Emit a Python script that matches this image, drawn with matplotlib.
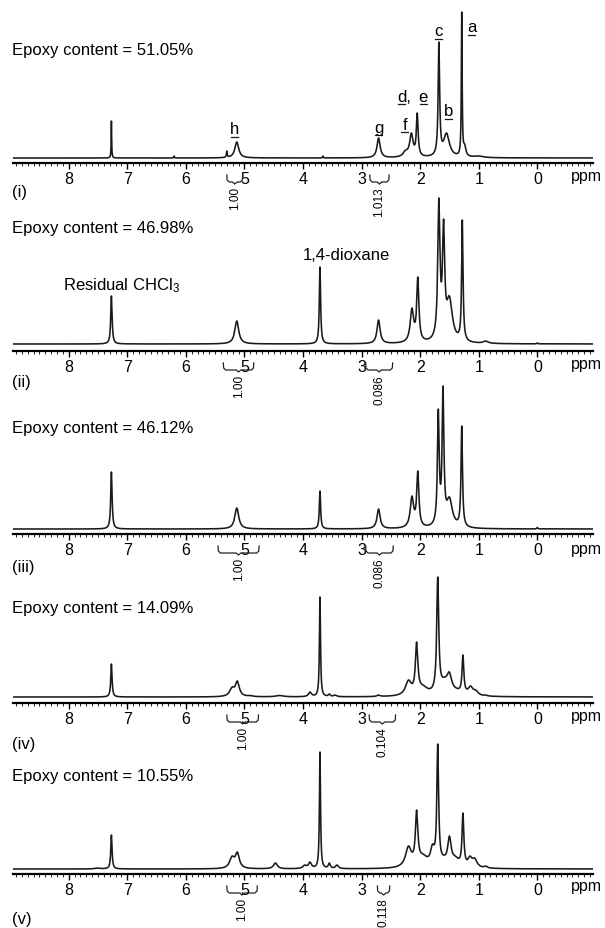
import numpy as np
import matplotlib.pyplot as plt
from matplotlib.ticker import MultipleLocator

plt.rcParams['font.family'] = 'Liberation Sans'
plt.rcParams['mathtext.fontset'] = 'custom'
plt.rcParams['mathtext.rm'] = 'Liberation Sans'
plt.rcParams['mathtext.it'] = 'Liberation Sans:italic'
plt.rcParams['mathtext.bf'] = 'Liberation Sans:bold'

# ---- data (ppm, peak height in px above baseline, half width) ----
panel_names = ['(i)', '(ii)', '(iii)', '(iv)', '(v)']
epoxy_content = [51.05, 46.98, 46.12, 14.09, 10.55]

pos_i = [7.27, 6.20, 5.30, 5.13, 3.66, 2.71, 2.25, 2.15, 2.05, 1.68, 1.55, 1.29, 1.24, 1.00]
hgt_i = [37, 2, 7, 16, 2, 20, 8, 25, 45, 116, 25, 146, 14, 2]
wid_i = [0.005, 0.006, 0.008, 0.04, 0.006, 0.032, 0.05, 0.035, 0.018, 0.015, 0.06, 0.008, 0.025, 0.1]

pos_ii = [7.27, 5.13, 3.71, 2.71, 2.14, 2.04, 1.68, 1.60, 1.50, 1.28, 0.88, 0.00]
hgt_ii = [48, 23, 77, 24, 36, 67, 146, 125, 48, 124, 3, 1]
wid_ii = [0.014, 0.04, 0.013, 0.032, 0.035, 0.022, 0.022, 0.022, 0.06, 0.014, 0.05, 0.01]

pos_iii = [7.27, 5.13, 3.71, 2.71, 2.14, 2.04, 1.69, 1.61, 1.50, 1.29, 0.00]
hgt_iii = [57, 21, 38, 20, 33, 58, 120, 143, 32, 103, 1.5]
wid_iii = [0.014, 0.04, 0.013, 0.032, 0.035, 0.022, 0.018, 0.018, 0.06, 0.015, 0.01]

pos_iv = [7.27, 5.21, 5.12, 4.90, 4.40, 3.88, 3.71, 3.55, 3.45, 2.71, 2.20, 2.06, 1.95,
          1.70, 1.58, 1.50, 1.38, 1.27, 1.14, 1.05, 0.88]
hgt_iv = [33, 10, 16, 1.5, 1.5, 5, 100, 3, 2, 2, 17, 55, 12, 120, 20, 25, 9, 42, 11, 7, 2]
wid_iv = [0.013, 0.05, 0.04, 0.05, 0.08, 0.03, 0.011, 0.02, 0.03, 0.03, 0.06, 0.025, 0.1,
          0.02, 0.1, 0.045, 0.1, 0.018, 0.05, 0.05, 0.03]

pos_v = [7.50, 7.27, 5.21, 5.12, 4.47, 3.97, 3.88, 3.71, 3.55, 3.42, 2.20, 2.06, 1.95,
         1.79, 1.70, 1.60, 1.50, 1.40, 1.27, 1.15, 1.07, 0.88]
hgt_v = [1, 34, 13, 17, 6, 4, 7, 117, 6, 4, 23, 59, 15, 25, 125, 14, 33, 13, 56, 13, 11, 3]
wid_v = [0.05, 0.013, 0.05, 0.04, 0.04, 0.04, 0.03, 0.011, 0.02, 0.03, 0.06, 0.025, 0.1,
         0.04, 0.018, 0.08, 0.035, 0.08, 0.018, 0.04, 0.05, 0.03]

# integration regions under the axis (ppm) and their values
int1_lo = [5.30, 5.36, 5.45, 5.30, 5.30]
int1_hi = [5.03, 4.84, 4.75, 4.76, 4.78]
int1_val = ['1.00', '1.00', '1.00', '1.00', '1.00']
int2_lo = [2.86, 2.93, 2.93, 2.87, 2.73]
int2_hi = [2.53, 2.47, 2.46, 2.42, 2.52]
int2_val = ['1.013', '0.086', '0.086', '0.104', '0.118']

# peak assignments in spectrum (i)
lab_i_text = ['a', 'b', 'c', 'd', 'e', 'f', 'g', 'h']
lab_i_ppm = [1.12, 1.52, 1.69, 2.28, 1.95, 2.26, 2.71, 5.17]
lab_i_y = [131, 47, 127, 62, 62, 34, 31, 29]

peaks = [(pos_i, hgt_i, wid_i), (pos_ii, hgt_ii, wid_ii), (pos_iii, hgt_iii, wid_iii),
         (pos_iv, hgt_iv, wid_iv), (pos_v, hgt_v, wid_v)]

# layout in figure pixels (from top)
W, H = 605, 929
base_y = [159, 345, 530, 698, 870]
axis_y = [164, 352, 535, 704, 875]
epoxy_y = [50, 229, 429, 609, 777]
name_y = [193, 382, 568, 745, 920]
ticklab_y = [176, 365, 550, 717, 887]


def lor(x, x0, w):
    return w ** 2 / ((x - x0) ** 2 + w ** 2)


def spectrum(ppm, pos, hgt, wid):
    pos = np.array(pos, float)
    hgt = np.array(hgt, float)
    wid = np.array(wid, float)
    m = lor(pos[:, None], pos[None, :], wid[None, :])
    amp = hgt.copy()
    # non-negative fit so that the curve passes through the read peak heights
    for _ in range(800):
        amp = amp * hgt / (m @ amp)
    return (amp[None, :] * lor(ppm[:, None], pos[None, :], wid[None, :])).sum(axis=1)


def integral(ax, lo, hi, val, gap):
    yt = -(gap + 12)
    yl = -(gap + 19)
    c = (lo + hi) / 2
    d = 0.04
    ax.plot([lo, lo - 0.005, lo - d, c + d, c, c - d, hi + d, hi + 0.005, hi],
            [yt, yl + 2, yl, yl, yl - 2, yl, yl, yl + 2, yt],
            color='#222222', lw=0.9, clip_on=False)
    ax.text(c, yl - 4, val, rotation=90, ha='center', va='top', fontsize=8.5)


ppm = np.linspace(-0.95, 8.95, 9000)
fig = plt.figure(figsize=(W / 100, H / 100), dpi=100)

for k in range(5):
    base, axy = base_y[k], axis_y[k]
    top = base - 152
    gap = axy - base
    ax = fig.add_axes([13 / W, 1 - axy / H, 580 / W, (axy - top) / H])
    ax.patch.set_visible(False)
    ax.set_xlim(8.95, -0.95)
    ax.set_ylim(-gap, base - top)

    pos, hgt, wid = peaks[k]
    ax.plot(ppm, spectrum(ppm, pos, hgt, wid), color='#1a1a1a', lw=1.15)

    for s in ['top', 'left', 'right']:
        ax.spines[s].set_visible(False)
    ax.spines['bottom'].set_linewidth(1.6)
    ax.set_yticks([])
    ax.set_xticks(range(0, 9))
    ax.xaxis.set_minor_locator(MultipleLocator(0.1))
    ax.tick_params(axis='x', which='major', length=4.5, width=1.0, pad=1.5, labelsize=11.5)
    ax.tick_params(axis='x', which='minor', length=2.2, width=0.6)

    ax.text(-0.83, base - ticklab_y[k], 'ppm', ha='center', va='center', fontsize=11.5)
    tr = ax.get_yaxis_transform()
    ax.text(-0.002, base - epoxy_y[k], 'Epoxy content = %.2f%%' % epoxy_content[k],
            transform=tr, ha='left', va='center', fontsize=12)
    ax.text(-0.002, base - name_y[k], panel_names[k], transform=tr,
            ha='left', va='center', fontsize=12)

    integral(ax, int1_lo[k], int1_hi[k], int1_val[k], gap)
    integral(ax, int2_lo[k], int2_hi[k], int2_val[k], gap)

    if k == 0:
        for t, x, y in zip(lab_i_text, lab_i_ppm, lab_i_y):
            ax.text(x, y, t + (',' if t == 'd' else ''), ha='center', va='center', fontsize=12)
            # underline below the letter
            ux = x + (0.04 if t == 'd' else 0.0)
            ax.plot([ux + 0.06, ux - 0.06], [y - 8, y - 8], color='#1a1a1a', lw=0.9)
    if k == 1:
        ax.text(7.10, 59, 'Residual CHCl$_3$', ha='center', va='center', fontsize=12)
        ax.text(3.26, 89, '1,4-dioxane', ha='center', va='center', fontsize=12)

fig.savefig('out.png', dpi=100)
